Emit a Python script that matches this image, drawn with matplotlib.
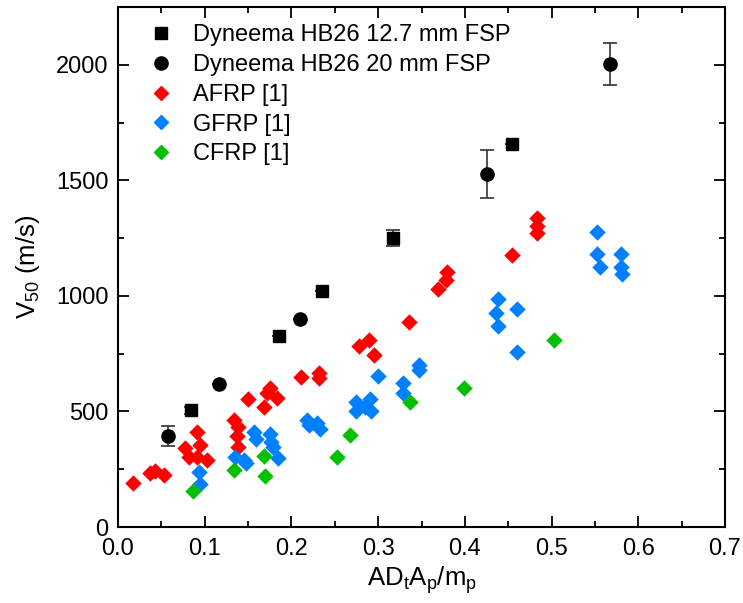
import matplotlib
matplotlib.use("Agg")
import matplotlib.pyplot as plt
from matplotlib.ticker import MultipleLocator

plt.rcParams['font.family'] = ['Liberation Sans', 'DejaVu Sans']
plt.rcParams['mathtext.default'] = 'regular'

# Dyneema HB26 12.7 mm FSP
sq_x = [0.084, 0.186, 0.235, 0.317, 0.454]
sq_y = [506, 827, 1022, 1252, 1658]
sq_err = [15, 0, 0, 35, 0]

# Dyneema HB26 20 mm FSP
ci_x = [0.058, 0.117, 0.210, 0.426, 0.567]
ci_y = [394, 619, 900, 1528, 2004]
ci_err = [42, 0, 0, 103, 92]

afrp_x = [0.017, 0.037, 0.043, 0.053, 0.077, 0.082, 0.091, 0.095, 0.091, 0.103,
          0.134, 0.138, 0.137, 0.138, 0.150, 0.168, 0.172, 0.175, 0.183, 0.211,
          0.232, 0.232, 0.278, 0.289, 0.295, 0.336, 0.369, 0.378, 0.379, 0.454,
          0.483, 0.483, 0.483]
afrp_y = [192, 232, 244, 225, 341, 304, 412, 355, 304, 290,
          463, 434, 393, 345, 553, 521, 580, 600, 557, 648,
          668, 644, 784, 810, 745, 889, 1029, 1069, 1105, 1177,
          1336, 1303, 1271]

gfrp_x = [0.093, 0.095, 0.135, 0.145, 0.148, 0.157, 0.159, 0.175, 0.177, 0.179,
          0.184, 0.218, 0.220, 0.230, 0.233, 0.275, 0.291, 0.275, 0.292, 0.285,
          0.300, 0.329, 0.329, 0.347, 0.347, 0.436, 0.4386, 0.4386, 0.4605, 0.4605,
          0.552, 0.552, 0.556, 0.580, 0.580, 0.581]
gfrp_y = [240, 188, 304, 290, 276, 412, 382, 402, 370, 345,
          300, 462, 440, 448, 422, 540, 552, 500, 500, 520,
          654, 622, 579, 701, 680, 928, 986, 870, 944, 756,
          1278, 1180, 1127, 1180, 1127, 1095]

cfrp_x = [0.086, 0.134, 0.168, 0.1695, 0.253, 0.2676, 0.3368, 0.399, 0.503]
cfrp_y = [155, 247, 307, 221, 304, 398, 542, 600, 810]

fig = plt.figure(figsize=(7.43, 6.03), dpi=100)
ax = fig.add_axes([0.1588, 0.1260, 0.8170, 0.8624])

ax.scatter(afrp_x, afrp_y, marker='D', s=70, color='#FF0000', linewidths=0, zorder=3)
ax.scatter(gfrp_x, gfrp_y, marker='D', s=70, color='#0080FF', linewidths=0, zorder=3)
ax.scatter(cfrp_x, cfrp_y, marker='D', s=70, color='#00C000', linewidths=0, zorder=3)

ax.errorbar(sq_x, sq_y, yerr=sq_err, fmt='none', ecolor='#333333', elinewidth=1.2, capsize=5, capthick=1.2, zorder=4)
ax.errorbar(ci_x, ci_y, yerr=ci_err, fmt='none', ecolor='#333333', elinewidth=1.2, capsize=5, capthick=1.2, zorder=4)
ax.plot(sq_x, sq_y, linestyle='none', marker='s', ms=8, color='black', zorder=5)
ax.plot(ci_x, ci_y, linestyle='none', marker='o', ms=9.5, color='black', zorder=5)

# legend handles
h1, = ax.plot([], [], linestyle='none', marker='s', ms=8, color='black')
h2, = ax.plot([], [], linestyle='none', marker='o', ms=9.5, color='black')
h3, = ax.plot([], [], linestyle='none', marker='D', ms=7.5, color='#FF0000')
h4, = ax.plot([], [], linestyle='none', marker='D', ms=7.5, color='#0080FF')
h5, = ax.plot([], [], linestyle='none', marker='D', ms=7.5, color='#00C000')
ax.legend([h1, h2, h3, h4, h5],
          ['Dyneema HB26 12.7 mm FSP', 'Dyneema HB26 20 mm FSP', 'AFRP [1]', 'GFRP [1]', 'CFRP [1]'],
          loc='upper left', frameon=False, fontsize=17, handletextpad=0.55,
          handlelength=1.6, labelspacing=0.33, borderaxespad=0.0,
          bbox_to_anchor=(0.025, 0.985))

ax.set_xlim(0, 0.7)
ax.set_ylim(0, 2250)
ax.xaxis.set_major_locator(MultipleLocator(0.1))
ax.xaxis.set_minor_locator(MultipleLocator(0.05))
ax.yaxis.set_major_locator(MultipleLocator(500))
ax.yaxis.set_minor_locator(MultipleLocator(250))
ax.set_xticks([0.0, 0.1, 0.2, 0.3, 0.4, 0.5, 0.6, 0.7])
ax.set_xticklabels(['0.0', '0.1', '0.2', '0.3', '0.4', '0.5', '0.6', '0.7'])
ax.tick_params(which='both', direction='in', top=True, right=True, width=1.3, labelsize=17)
ax.tick_params(which='major', length=8)
ax.tick_params(which='minor', length=4)
ax.tick_params(axis='x', pad=8)
ax.tick_params(axis='y', pad=7)
for s in ax.spines.values():
    s.set_linewidth(1.5)

ax.set_xlabel('AD$_t$A$_p$/m$_p$', fontsize=18.5, labelpad=3)
ax.set_ylabel('V$_{50}$ (m/s)', fontsize=18.5, labelpad=10)

fig.savefig('out.png', dpi=100)
